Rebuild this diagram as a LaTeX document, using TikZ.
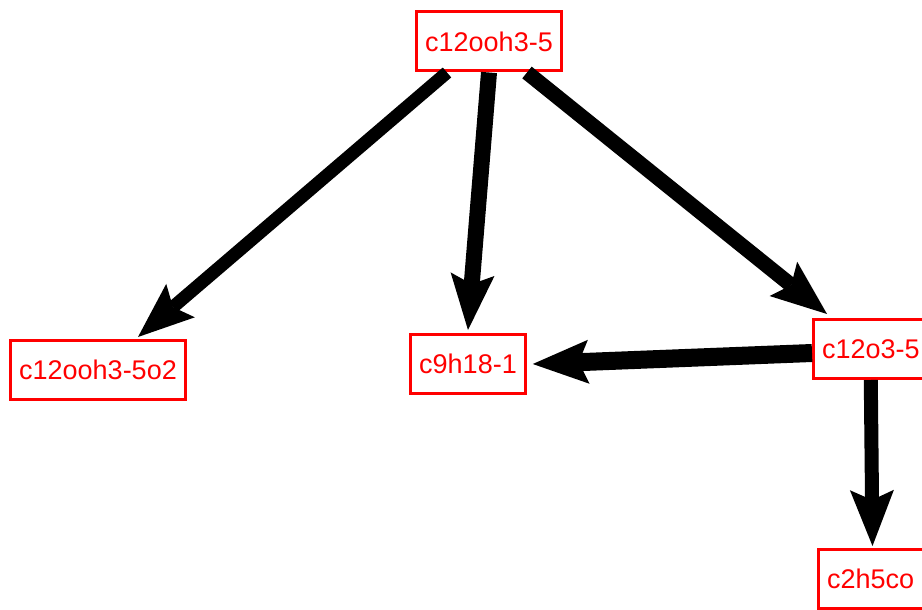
\documentclass[tikz,border=0pt]{standalone}
\usepackage{fontspec}
\newfontfamily\labfont{Liberation Sans}
\usetikzlibrary{arrows.meta}
\tikzset{
  species/.style={draw=red, line width=3pt, text=red, fill=white,
    font=\labfont\fontsize{27}{30}\selectfont, inner xsep=8.5pt, inner ysep=0pt,
    minimum height=59pt},
  flux/.style={draw=black, line join=miter,
    -{Stealth[length=56pt, width=44pt, inset=10pt, line width=0pt]}}
}
\begin{document}
\begin{tikzpicture}[x=1pt, y=-1pt]
\useasboundingbox (0,0) rectangle (922,610);
\fill[white] (0,0) rectangle (922,610);
\node[species] (top) at (489,41.5) {c12ooh3-5};
\node[species] (n1) at (98,370) {c12ooh3-5o2};
\node[species] (n2) at (468,364) {c9h18-1};
\node[species, anchor=west] (n3) at (812,349) {c12o3-5};
\node[species, anchor=north west, minimum width=130pt, align=left, text width=113pt] (n4) at (817,548) {\hspace*{0pt}c2h5co};
\draw[flux, line width=13pt] ([xshift=-42pt]top.south) -- ([xshift=40pt,yshift=2pt]n1.north);
\draw[flux, line width=16pt] (top.south) -- ([yshift=3pt]n2.north);
\draw[flux, line width=15pt] ([xshift=38pt]top.south) -- ([xshift=15pt,yshift=4pt]n3.north west);
\draw[flux, line width=18pt] ([yshift=-4pt]n3.west) -- ([xshift=6pt]n2.east);
\draw[flux, line width=14pt] (n3.south) -- ([xshift=-11pt,yshift=2pt]n4.north);
\end{tikzpicture}
\end{document}
